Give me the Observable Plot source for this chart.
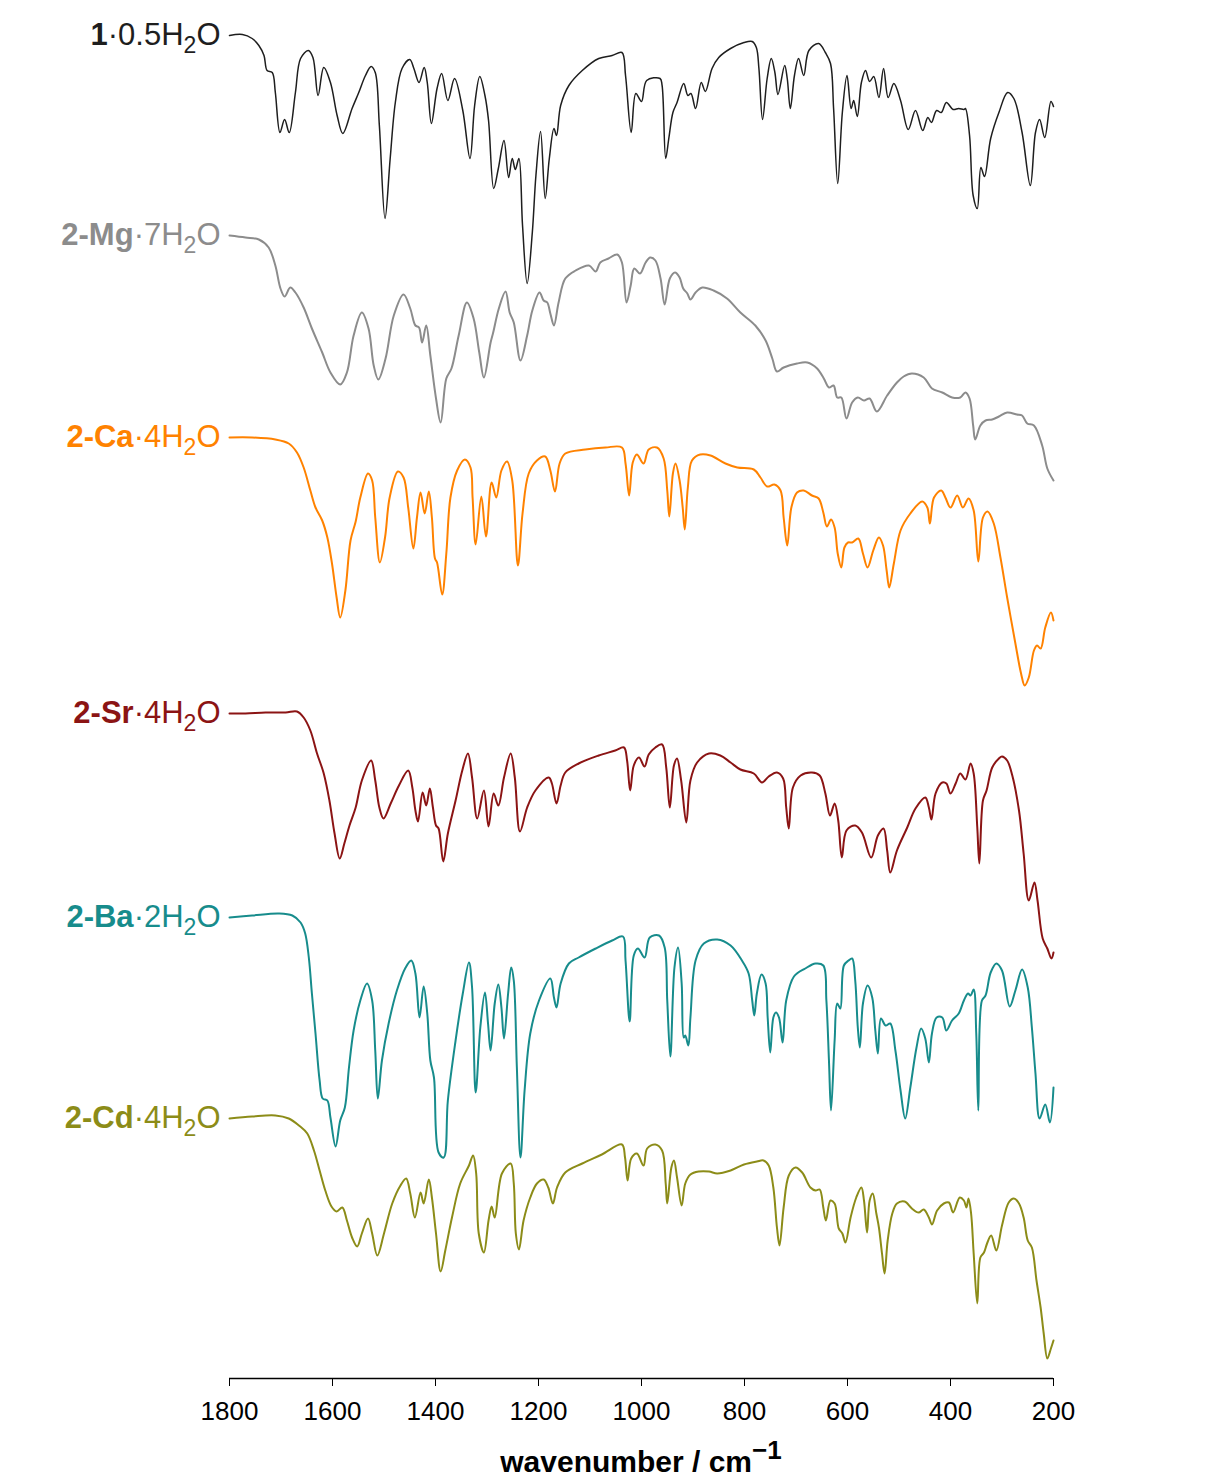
<!DOCTYPE html>
<html><head><meta charset="utf-8">
<script src="https://cdn.jsdelivr.net/npm/d3@7"></script>
<script src="https://cdn.jsdelivr.net/npm/@observablehq/plot@0.6"></script>
<style>
body{margin:0;background:#fff;font-family:Arial,"Liberation Sans",sans-serif;overflow:hidden;position:relative;width:1213px;height:1481px}
#chart svg{display:block}
#xtitle{position:absolute;top:1447px;left:69px;width:1144px;text-align:center;font-weight:bold;font-size:30px;line-height:30px;color:#000}
#xtitle sup{font-size:26px;vertical-align:0;position:relative;top:-13px}
</style></head>
<body><div id="chart"></div><div id="xtitle">wavenumber / cm<sup>−1</sup></div>
<script>
// Wavenumber (cm^-1), transmittance (a.u., offset)
const spec1 = [[1800,136.5],[1775,136.6],[1756,136.2],[1743,135.5],[1733,134.5],[1727,133],[1717,132.8],[1711,130.8],[1702,126.8],[1693,128.1],[1684,126.8],[1672,130.8],[1662,134.2],[1647,135],[1638,134.3],[1628,130.5],[1617,133.3],[1604,131.8],[1591,128.5],[1580,126.7],[1562,129.2],[1549,130.8],[1536,132.5],[1525,133.4],[1517,132.8],[1509,127.5],[1498,118.2],[1488,124.2],[1478,129.8],[1465,133.2],[1450,134.1],[1442,133.2],[1432,131.8],[1422,133.3],[1416,131.8],[1408,127.7],[1397,131.2],[1388,132.7],[1376,130],[1363,132.2],[1347,129],[1333,124.2],[1324,129.5],[1314,132.4],[1304,130.5],[1297,128],[1287,121.2],[1278,123.2],[1267,126],[1258,122.3],[1251,124.2],[1245,123.1],[1238,124.2],[1231,117.5],[1222,111.7],[1212,116.8],[1205,122.5],[1196,126.9],[1187,120.2],[1179,124.2],[1170,127.2],[1165,126.5],[1157,129.5],[1141,131.5],[1115,133],[1083,134.2],[1057,134.5],[1038,134.8],[1031,132.5],[1020,126.8],[1011,130.7],[1000,129.9],[990,132],[964,132.2],[960,131.5],[953,124.2],[947,126.2],[939,128.8],[931,129.8],[918,131.7],[910,130.5],[904,130.7],[895,129.2],[884,131.8],[876,130.9],[863,133.2],[850,134.3],[827,135.2],[801,135.8],[785,135.9],[777,135.3],[772,133.2],[765,128.1],[756,132.2],[748,134.2],[741,132.8],[735,130.6],[722,133.5],[717,132.2],[711,129.2],[703,132.5],[695,134.2],[685,132.5],[675,135],[656,135.7],[643,134.8],[633,133.7],[627,129.2],[619,121.7],[610,128.8],[601,132.5],[593,129.2],[588,130],[581,128.4],[573,131.8],[565,133],[557,131.9],[549,132.4],[539,130.3],[530,133.2],[521,130.3],[510,131.7],[497,130],[482,127.1],[468,129],[454,127],[444,128.3],[437,127.8],[427,129],[418,128.8],[408,129.8],[395,129.1],[384,129.2],[374,129.1],[371,129.2],[363,126.5],[356,120.5],[348,119.2],[341,123.3],[334,122.4],[322,126.2],[306,128.8],[289,130.8],[277,130.2],[261,126.8],[245,121.5],[235,126.8],[227,128.1],[217,126.3],[205,129.9],[200,129.4]];
const spec2 = [[1800,116.5],[1769,116.3],[1743,116.1],[1724,115.3],[1711,113.5],[1701,111.2],[1693,110.4],[1682,111.3],[1672,110.8],[1656,109.3],[1640,107.2],[1620,104.8],[1604,102.8],[1585,101.6],[1572,102.8],[1559,106.5],[1543,108.8],[1530,107.2],[1520,103.5],[1511,102.1],[1497,104.2],[1481,108.5],[1462,110.6],[1449,109.2],[1439,107.5],[1432,107.3],[1426,105.8],[1418,107.5],[1410,104.5],[1399,100.2],[1390,97.8],[1379,102.2],[1369,103.2],[1355,106.5],[1339,109.8],[1326,108.2],[1315,104.8],[1306,102.3],[1293,105.8],[1288,106.8],[1277,109.2],[1264,110.9],[1256,108.8],[1248,107.8],[1235,104],[1222,106.5],[1212,109],[1198,110.8],[1190,110],[1183,109.8],[1177,108.7],[1170,107.5],[1161,109.8],[1148,112.2],[1128,113],[1102,113.5],[1089,112.9],[1080,113.8],[1064,114.2],[1047,114.6],[1038,113.8],[1029,109.8],[1021,111.5],[1014,113.2],[1003,112.7],[992,113.8],[983,114.3],[973,114],[963,112.2],[955,109.6],[945,112.2],[935,112.8],[926,112.3],[919,111.2],[911,110.7],[905,110.1],[895,110.8],[882,111.3],[860,111],[834,110.2],[808,108.8],[779,107.5],[759,106],[746,104.2],[737,102.9],[724,103.3],[698,103.7],[678,103.8],[659,103.2],[646,102.2],[636,101.3],[627,101.5],[620,100.3],[612,100.3],[602,98.2],[591,99.8],[580,100.3],[568,100],[557,100.2],[543,98.9],[523,100.5],[504,101.8],[491,102.4],[475,102.7],[452,102.3],[436,101.2],[416,100.8],[397,100.3],[381,100.3],[371,100.8],[363,100.2],[356,97.5],[352,96.1],[342,97.5],[332,98],[319,98.1],[306,98.4],[290,98.8],[271,98.6],[261,98.5],[251,97.7],[238,97.5],[222,95.5],[212,93.2],[200,92]];
const spec3 = [[1800,96.3],[1756,96.3],[1711,96.1],[1685,95.7],[1669,94.8],[1656,93.3],[1643,91],[1633,89.3],[1620,88],[1610,86.3],[1601,83.7],[1592,80.3],[1585,78.3],[1575,81],[1565,86],[1555,87.9],[1546,90.3],[1531,92.7],[1523,92],[1517,88.3],[1508,83.8],[1498,86.3],[1489,90.3],[1473,92.9],[1462,92.3],[1453,89.3],[1443,85.2],[1436,88.3],[1429,90.8],[1421,88.7],[1413,90.9],[1407,88.3],[1401,84.2],[1397,83.8],[1387,80.6],[1379,84.7],[1371,90.3],[1358,93],[1343,94.1],[1332,93.3],[1328,90.3],[1322,85.6],[1311,90.4],[1302,86.4],[1291,91.8],[1282,90.3],[1272,93],[1261,93.9],[1251,92],[1240,83.5],[1231,88.7],[1219,92.7],[1203,94],[1187,94.4],[1177,93],[1168,90.9],[1159,93.7],[1148,94.7],[1109,95.1],[1070,95.3],[1038,95.3],[1031,93.7],[1024,90.5],[1017,93.8],[1009,94.6],[996,93.7],[986,95.1],[970,95.3],[957,94.2],[950,91],[946,88.4],[939,92.7],[934,93.7],[926,92],[920,89.3],[916,87.1],[910,91.3],[902,94],[886,94.6],[866,94.5],[837,93.7],[814,93.3],[782,93.1],[769,92.3],[756,91.4],[742,91.6],[730,91],[724,88.3],[717,85.5],[709,89.3],[698,90.8],[685,91],[669,90.5],[656,90.2],[647,88.8],[640,87.4],[632,88.1],[625,87.3],[619,84.7],[612,83.3],[606,85.3],[599,85.8],[591,85.8],[579,86.2],[570,84.7],[561,83.3],[550,85],[539,86.3],[531,85.5],[524,83],[519,81.3],[510,83.7],[497,87],[478,88.7],[455,89.9],[445,89.3],[440,87.7],[432,90.3],[418,91],[410,90.3],[400,89.3],[387,90.5],[376,89.3],[365,90.2],[355,89],[346,83.9],[337,88.3],[328,88.9],[316,87.7],[303,84.3],[290,80.3],[274,75.7],[263,72.7],[256,71.5],[248,72.3],[238,75],[232,75.5],[225,75.2],[216,77.3],[205,78.8],[200,78]];
const spec4 = [[1800,68.7],[1769,68.7],[1730,68.8],[1691,68.8],[1669,68.9],[1656,68.3],[1643,67],[1630,64.7],[1617,62.7],[1606,60],[1596,56.7],[1586,54.2],[1577,55.7],[1567,57.5],[1555,59.3],[1543,62],[1525,64],[1517,62],[1509,59.3],[1501,58.2],[1487,59.7],[1471,61.5],[1453,63],[1445,61.3],[1439,59],[1434,57.9],[1425,60.8],[1418,59.5],[1411,61.2],[1405,59.3],[1399,57.5],[1394,57.2],[1385,53.9],[1376,56.7],[1361,60],[1348,63],[1337,64.7],[1329,62.3],[1319,58.2],[1306,61],[1297,57.4],[1287,60.7],[1278,59.5],[1267,62.3],[1254,64.7],[1246,62.3],[1236,56.9],[1222,59.3],[1206,61],[1180,62.3],[1174,61.7],[1165,59.7],[1157,61.5],[1148,62.8],[1122,63.7],[1083,64.5],[1051,65],[1034,65.3],[1028,64],[1022,61],[1015,63.5],[1005,64.3],[994,63.4],[986,64.6],[973,65.3],[960,65.6],[952,63.3],[945,59.3],[937,63.5],[931,64.2],[923,62],[913,57.8],[905,62],[892,63.8],[869,64.7],[847,64.5],[827,63.8],[808,63.1],[782,62.7],[766,61.8],[753,62.4],[737,62.8],[725,62.2],[719,59.3],[714,57.2],[706,61.3],[691,62.5],[669,62.8],[654,62.5],[643,60.7],[634,58.5],[625,59.7],[618,58],[611,54.3],[602,57],[585,57.5],[572,56.8],[554,54.3],[541,56.5],[530,57.2],[523,55],[517,52.8],[504,55],[484,57.3],[468,59.2],[449,60.3],[442,59.3],[437,58.1],[429,60.7],[416,61.8],[408,61.7],[400,60.7],[390,61.7],[381,62.7],[371,62.1],[361,63.7],[355,62.7],[348,57.3],[344,53.7],[337,60],[330,61],[319,63.3],[306,64.2],[300,64.4],[290,64],[280,62.5],[267,59],[258,54.7],[248,50],[237,51.8],[231,50],[221,46.2],[212,45.2],[204,44.2],[200,44.8]];
const spec5 = [[1800,48.3],[1756,48.5],[1704,48.7],[1678,48.5],[1662,47.8],[1653,46.7],[1646,44.3],[1640,40.7],[1633,36.7],[1625,32],[1619,30.2],[1610,30],[1604,28.3],[1594,25.4],[1585,28],[1576,29.3],[1568,33.3],[1559,37],[1546,40],[1533,41.7],[1523,40],[1517,35],[1512,30.2],[1504,34],[1491,37.7],[1475,41],[1458,43.3],[1447,44],[1439,42.7],[1431,38.3],[1423,41.4],[1416,38.7],[1410,34],[1403,32.3],[1394,24.8],[1384,24.3],[1376,30],[1361,36],[1347,40.7],[1335,43.8],[1329,41.3],[1322,30.8],[1313,37.3],[1304,40.8],[1298,37.7],[1293,35],[1285,39.7],[1278,41.6],[1272,39.3],[1267,36.2],[1259,40.7],[1253,43.3],[1248,42],[1242,33.3],[1235,24.3],[1227,31],[1216,36.7],[1199,40],[1177,42.2],[1170,40.3],[1165,39.3],[1157,41.7],[1141,43.7],[1122,44.3],[1089,45.2],[1057,46],[1036,46.4],[1031,44],[1023,37.9],[1015,44.5],[1007,45.2],[994,44.3],[984,46.3],[966,46.5],[955,45.3],[950,40],[944,34.4],[936,43.3],[929,45.3],[922,41.7],[918,36.3],[915,36.5],[909,35.5],[905,38.3],[895,44],[879,45.7],[853,46.1],[827,45.5],[805,44],[792,42.7],[785,40],[781,38.5],[776,40.7],[767,42.6],[759,41.7],[755,38.3],[750,34.8],[744,38.3],[739,38.8],[733,38.3],[726,35.8],[719,40],[704,42.4],[682,43.2],[662,43.7],[647,43.5],[641,40],[636,34],[632,29],[625,36],[620,39.7],[614,39.2],[607,43.5],[598,44],[591,44.2],[585,42],[580,37.3],[576,35.3],[570,39.7],[561,41.5],[552,40.3],[546,37],[541,34.7],[535,38.2],[526,37.5],[517,37.7],[507,35],[497,31],[488,28.2],[478,31.3],[466,35.3],[457,37.2],[449,36.2],[442,33.8],[436,36.7],[427,38.3],[416,38.3],[408,37],[397,38],[384,38.7],[374,40],[366,40.7],[361,40.5],[355,41.1],[350,36.7],[346,29],[339,40],[332,40.5],[322,42.8],[311,43.7],[300,43],[285,39.4],[274,41],[261,43.1],[250,41.3],[242,37.3],[235,32.7],[227,28.2],[216,29.6],[207,27.8],[200,31.3]];
const spec6 = [[1800,28.2],[1756,28.4],[1711,28.5],[1685,28.2],[1665,27.5],[1649,26.7],[1636,25],[1625,23],[1614,21],[1602,19.4],[1592,18.9],[1581,19.3],[1572,18],[1562,16.3],[1552,15.4],[1543,16.7],[1531,18.2],[1523,16.7],[1513,14.5],[1500,16.7],[1484,19.7],[1468,21.5],[1457,22.2],[1449,20.7],[1440,18.3],[1429,20.8],[1423,19.7],[1413,22.1],[1407,20.3],[1399,16.7],[1390,12.9],[1381,15],[1368,18.3],[1352,21.7],[1335,23.5],[1327,24.5],[1321,22.7],[1316,16.7],[1306,14.8],[1297,18],[1291,19.4],[1285,18.3],[1271,22.7],[1254,23.7],[1248,21.7],[1244,16.7],[1238,15.1],[1229,18],[1216,20.3],[1203,21.7],[1190,22.1],[1181,21.3],[1172,19.7],[1164,21.3],[1148,22.8],[1115,23.7],[1077,24.6],[1038,25.6],[1032,24.3],[1027,22],[1020,24.2],[1009,24.7],[996,23.5],[989,25.2],[973,25.6],[960,25],[953,21.7],[950,19.7],[942,23.3],[937,24],[931,22.3],[922,19.5],[915,21.7],[905,22.6],[889,22.9],[869,22.9],[853,22.7],[827,23],[801,23.6],[776,23.9],[763,24],[753,23.5],[744,21.3],[737,17.3],[732,15.5],[724,19.3],[714,22.5],[701,23.3],[688,22.8],[672,21.3],[662,21],[654,21.1],[647,19.3],[642,18],[633,20],[625,19.7],[617,17.2],[610,16.7],[604,15.8],[594,18.3],[583,20.3],[573,21.3],[568,20],[562,16.8],[557,20],[551,20.7],[544,18.7],[539,17.3],[533,14.7],[528,12.7],[522,16],[513,18.7],[504,19.7],[489,19.9],[475,19.2],[462,18.8],[452,19.1],[442,18.3],[436,17.6],[426,19],[413,19.7],[403,19.8],[395,18.8],[382,20.3],[374,20],[369,19.3],[365,20.2],[360,18.7],[355,14.7],[348,9.7],[342,14.3],[335,14.8],[329,15.7],[321,16.5],[311,15],[300,17.5],[287,19.8],[277,20.2],[267,19.7],[258,18.3],[250,16],[242,15.3],[233,12],[225,9.3],[219,6.7],[212,4.2],[205,5.2],[200,6]];

const spectra = [spec1, spec2, spec3, spec4, spec5, spec6];
const labelBold = ["1", "2-Mg", "2-Ca", "2-Sr", "2-Ba", "2-Cd"];
const labelRest = ["·0.5H", "·7H", "·4H", "·4H", "·2H", "·4H"];
const colors = ["#1e1e1e", "#8c8c8c", "#ff8200", "#8b1414", "#178c8c", "#8c8c18"];
const widths = [1.5, 2, 2, 2, 2, 2];
const xTicks = [1800, 1600, 1400, 1200, 1000, 800, 600, 400, 200];

const labelRows = spectra.map((s, i) => ({w: s[0][0], t: s[0][1], text: labelBold[i] + labelRest[i] + "2O", color: colors[i]}));

const plot = Plot.plot({
  width: 1213, height: 1440,
  marginLeft: 229, marginRight: 160, marginTop: 0, marginBottom: 62,
  style: {fontFamily: "Arial, 'Liberation Sans', sans-serif", fontSize: "26px", color: "#000", background: "transparent", overflow: "visible"},
  x: {domain: [1800, 200], ticks: xTicks, tickFormat: "d", tickSize: 8, tickPadding: 15, label: null},
  y: {domain: [2.2, 140], axis: null},
  marks: [
    ...spectra.map((s, i) => Plot.line(s, {x: d => d[0], y: d => d[1], stroke: colors[i], strokeWidth: widths[i], curve: "catmull-rom"})),
    Plot.ruleY([2.2], {stroke: "#000", strokeWidth: 1.5}),
    Plot.text(labelRows, {x: "w", y: "t", text: "text", fill: "color", textAnchor: "end", dx: -9, fontSize: 31})
  ]
});
document.getElementById("chart").appendChild(plot);

// rich text for labels: bold prefix, subscript 2
d3.select(plot).selectAll('g[aria-label="text"] text').each(function(_, i) {
  const t = d3.select(this);
  t.text(null);
  t.append("tspan").attr("font-weight", "bold").text(labelBold[i]);
  t.append("tspan").text(labelRest[i]);
  t.append("tspan").attr("dy", 8).attr("font-size", 23).text("2");
  t.append("tspan").attr("dy", -8).text("O");
});
</script>
</body></html>
